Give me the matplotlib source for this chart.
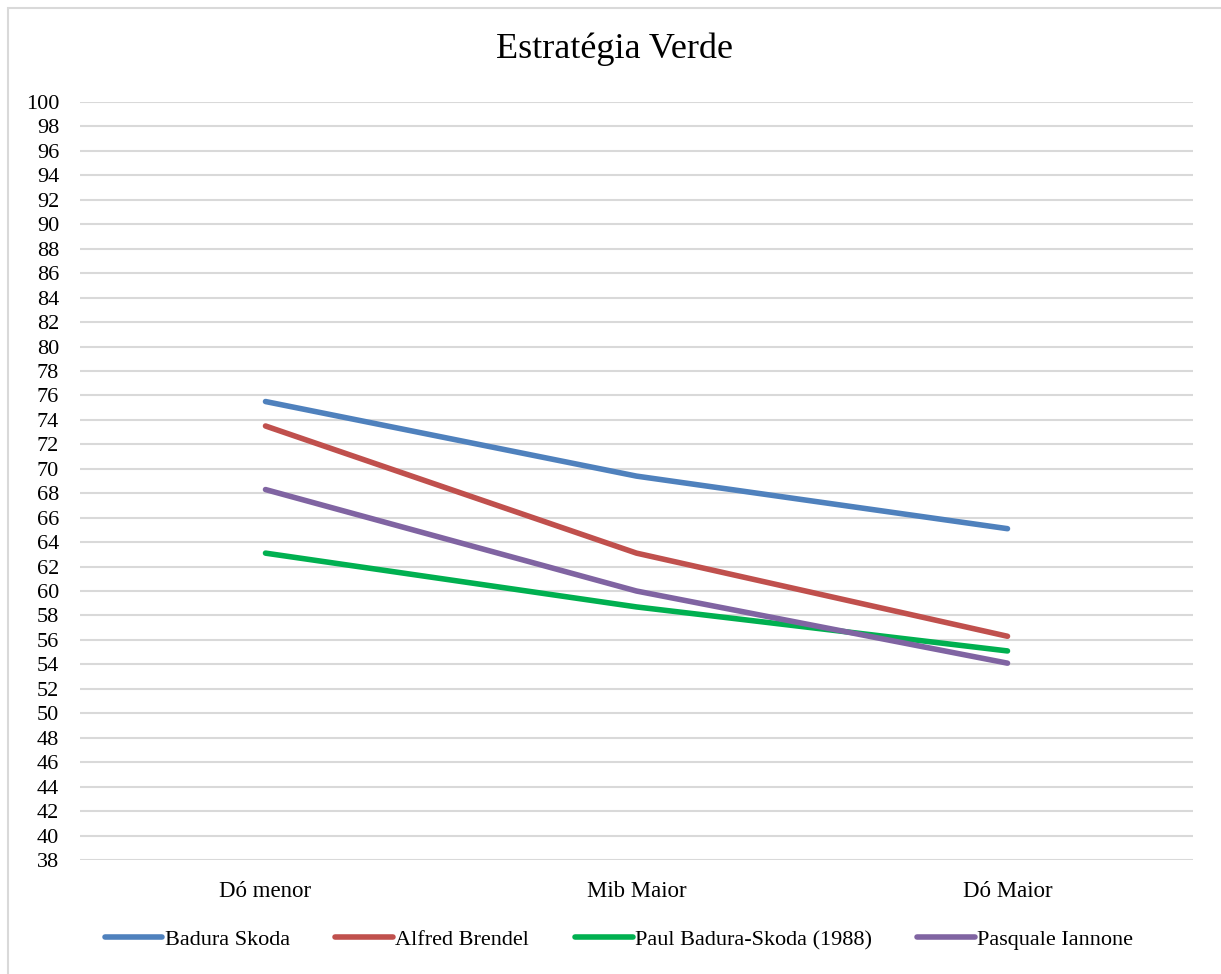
import matplotlib.pyplot as plt
from matplotlib.patches import Rectangle

plt.rcParams['font.family'] = ['Liberation Serif', 'DejaVu Serif']

categories = ["Dó menor", "Mib Maior", "Dó Maior"]
badura_skoda = [75.5, 69.4, 65.1]
alfred_brendel = [73.5, 63.1, 56.3]
paul_badura_skoda_1988 = [63.1, 58.7, 55.1]
pasquale_iannone = [68.3, 60.0, 54.1]

series = [
    ("Badura Skoda", badura_skoda, "#4F81BD"),
    ("Alfred Brendel", alfred_brendel, "#C0504D"),
    ("Paul Badura-Skoda (1988)", paul_badura_skoda_1988, "#00B050"),
    ("Pasquale Iannone", pasquale_iannone, "#8064A2"),
]
yticks = list(range(38, 101, 2))

fig = plt.figure(figsize=(12.21, 9.74), dpi=100)
ax = fig.add_axes([80 / 1221, 1 - 860 / 974, 1113 / 1221, 758 / 974])

# light frame around the whole chart
fig.patches.append(Rectangle((8 / 1221, -0.01), 1.02, 1 - 8 / 974 + 0.01,
                             transform=fig.transFigure, fill=False,
                             edgecolor="#d9d9d9", linewidth=1.5))

x = range(len(categories))
for name, vals, color in series:
    ax.plot(x, vals, color=color, linewidth=4.0, solid_capstyle="round", label=name)

ax.set_xlim(-0.5, len(categories) - 0.5)
ax.set_ylim(38, 100)
ax.set_yticks(yticks)
ax.set_xticks(list(x))
ax.set_xticklabels(categories)
ax.yaxis.grid(True, color="#d9d9d9", linewidth=1.5)
ax.set_axisbelow(True)
for s in ax.spines.values():
    s.set_visible(False)
ax.tick_params(axis="y", length=0, labelsize=16, pad=15)
ax.tick_params(axis="x", length=0, labelsize=16.5, pad=15)

fig.text(615 / 1221, 1 - 49 / 974, "Estratégia Verde", ha="center", va="center", fontsize=26)

fig.legend(loc="center", bbox_to_anchor=(619 / 1221, 1 - 940 / 974), ncol=4,
           frameon=False, fontsize=16, handlelength=2.6, handletextpad=0.1,
           columnspacing=2.05)

fig.savefig("out.png", dpi=100)
